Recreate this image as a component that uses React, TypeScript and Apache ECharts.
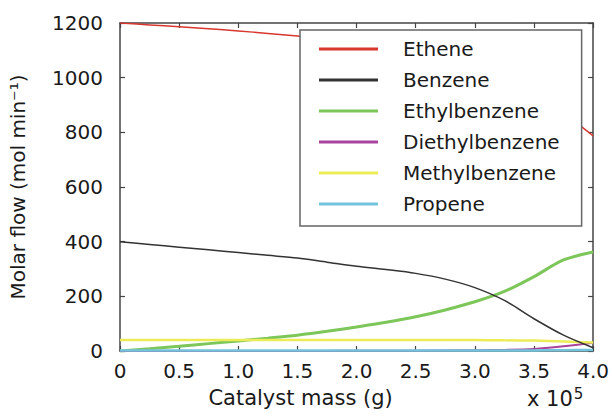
import React, { useEffect, useRef } from "react";
import * as echarts from "echarts";

const catalystMass = [0, 0.25, 0.5, 0.75, 1.0, 1.25, 1.5, 1.75, 2.0, 2.25, 2.5, 2.75, 3.0, 3.25, 3.5, 3.75, 4.0];
const ethene = [1200, 1193, 1186, 1179, 1171, 1162, 1152, 1141, 1128, 1113, 1095, 1072, 1042, 1000, 940, 870, 787];
const benzene = [400, 390, 380, 370, 360, 350, 340, 325, 310, 298, 284, 263, 232, 185, 118, 58, 12];
const ethylbenzene = [0, 8, 17, 27, 37, 47, 58, 72, 88, 105, 125, 150, 180, 218, 272, 333, 362];
const diethylbenzene = [0, 0, 0, 0, 0, 0, 0, 0, 1, 1, 1, 2, 3, 4, 7, 17, 30];
const methylbenzene = [40, 40, 40, 40, 40, 40, 40, 40, 40, 40, 40, 40, 40, 39, 38, 35, 31];
const propene = [2, 2, 2, 2, 2, 2, 2, 2, 2, 2, 2, 2, 2, 2, 2, 3, 4];

const seriesNames = ["Ethene", "Benzene", "Ethylbenzene", "Diethylbenzene", "Methylbenzene", "Propene"];
const seriesValues = [ethene, benzene, ethylbenzene, diethylbenzene, methylbenzene, propene];
const seriesColors = ["#d7372d", "#333333", "#7cc65a", "#a8449c", "#ecec58", "#72c4dc"];
const seriesWidths = [1.5, 1.5, 3, 2, 2.5, 2.5];

const FONT = "DejaVu Sans";
const TEXT = "#1a1a1a";

export default function App() {
  const ref = useRef<HTMLDivElement>(null);
  useEffect(() => {
    if (!ref.current) return;
    const chart = echarts.init(ref.current, null, { renderer: "svg" });
    const axisLineStyle = { color: "#444", width: 1.5 };
    const tick = { show: true, inside: true, length: 5, lineStyle: { color: "#444", width: 1.2 } };
    chart.setOption({
      animation: false,
      backgroundColor: "#ffffff",
      grid: { left: 111, right: 15, top: 23, bottom: 65, containLabel: false },
      legend: {
        orient: "vertical",
        left: 300,
        top: 30,
        data: seriesNames,
        icon: "rect",
        itemWidth: 59,
        itemHeight: 3,
        itemGap: 9,
        padding: [8, 22, 11, 19],
        backgroundColor: "#ffffff",
        borderColor: "#666",
        borderWidth: 1.5,
        textStyle: { fontFamily: FONT, fontSize: 20, color: TEXT, lineHeight: 22, padding: [0, 0, 0, 20] },
      },
      xAxis: [
        {
          type: "value",
          min: 0,
          max: 4,
          interval: 0.5,
          name: "Catalyst mass (g)",
          nameLocation: "middle",
          nameGap: 36,
          nameTextStyle: { fontFamily: FONT, fontSize: 21, color: TEXT, padding: [0, 112, 0, 0] },
          axisLine: { show: true, lineStyle: axisLineStyle },
          axisTick: tick,
          splitLine: { show: false },
          axisLabel: {
            fontFamily: FONT,
            fontSize: 20,
            color: TEXT,
            margin: 10,
            formatter: (v: number) => (v === 0 ? "0" : v.toFixed(1)),
          },
        },
        {
          type: "value",
          position: "top",
          min: 0,
          max: 4,
          interval: 0.5,
          axisLine: { show: true, onZero: false, lineStyle: axisLineStyle },
          axisTick: tick,
          axisLabel: { show: false },
          splitLine: { show: false },
        },
      ],
      yAxis: [
        {
          type: "value",
          min: 0,
          max: 1200,
          interval: 200,
          name: "Molar flow (mol min⁻¹)",
          nameLocation: "middle",
          nameGap: 78,
          nameRotate: 90,
          nameTextStyle: { fontFamily: FONT, fontSize: 20, color: TEXT, padding: [0, 0, 14, 0] },
          axisLine: { show: true, lineStyle: axisLineStyle },
          axisTick: tick,
          splitLine: { show: false },
          axisLabel: {
            fontFamily: FONT,
            fontSize: 20,
            color: TEXT,
            margin: 17,
            formatter: (v: number) => String(v),
          },
        },
        {
          type: "value",
          position: "right",
          min: 0,
          max: 1200,
          interval: 200,
          axisLine: { show: true, onZero: false, lineStyle: axisLineStyle },
          axisTick: tick,
          axisLabel: { show: false },
          splitLine: { show: false },
        },
      ],
      graphic: [
        {
          type: "text",
          left: 527,
          top: 386,
          style: {
            text: "x 10{s|5}",
            font: `21px "${FONT}"`,
            fill: TEXT,
            rich: { s: { fontSize: 15, fontFamily: FONT, fill: TEXT, padding: [0, 0, 10, 1] } },
          },
        },
      ],
      series: seriesNames.map((name, i) => ({
        name,
        type: "line",
        xAxisIndex: 0,
        yAxisIndex: 0,
        data: catalystMass.map((x, j) => [x, seriesValues[i][j]]),
        showSymbol: false,
        smooth: 0.3,
        color: seriesColors[i],
        lineStyle: { color: seriesColors[i], width: seriesWidths[i] },
        z: 2 + (i === 1 ? 1 : 0),
      })),
    });
    return () => chart.dispose();
  }, []);
  return (
    <div
      ref={ref}
      style={{ position: "fixed", left: 0, top: 0, width: 612, height: 416 }}
    />
  );
}
